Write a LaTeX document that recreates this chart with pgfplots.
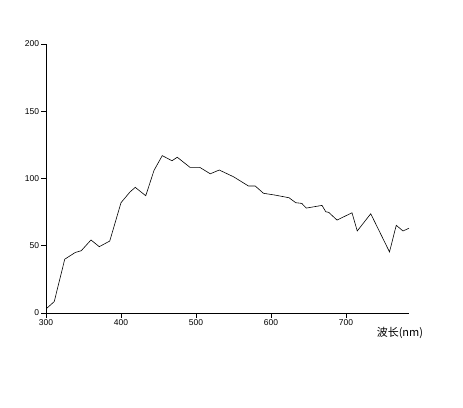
\documentclass[border=0pt]{standalone}
\usepackage{fontspec}
\setmainfont{Liberation Sans}
\newfontfamily\cjk{Noto Sans CJK SC}
\usepackage{pgfplots}
\pgfplotsset{compat=1.18}
\begin{document}
\begin{tikzpicture}
\path[use as bounding box] (-46bp,-95bp) rectangle (417bp,313bp);
\begin{axis}[
  at={(0,0)}, anchor=south west,
  scale only axis, width=363bp, height=269bp,
  xmin=300, xmax=784, ymin=0, ymax=200,
  axis lines*=left,
  axis line style={line width=0.6bp},
  tick align=outside,
  major tick length=4.5bp,
  tick style={line width=0.6bp, black},
  xtick={300,400,500,600,700},
  ytick={0,50,100,150,200},
  ticklabel style={font=\fontsize{8.5bp}{10bp}\selectfont},
  /pgf/number format/assume math mode=true,
  xticklabel style={yshift=1bp},
  yticklabel style={xshift=1bp},
  xlabel={\cjk 波长(nm)},
  xlabel style={font=\fontsize{11bp}{13bp}\selectfont, at={(axis description cs:0.975,-0.075)}, anchor=center},
]
\addplot[black, line width=0.6bp] coordinates {
(300,3) (311,8.5) (325,40) (339,45) (347,46.3) (360,54.3) (371,49.3) (385,53.5)
(400,82) (412,90) (419,93.4) (433,87.2) (444,106) (455,117) (468,113.2) (475,115.8)
(492,108.3) (505,108.3) (519,103.5) (531,106.3) (550,101.3) (570,94.4) (579,94.4)
(590,89) (605,87.7) (624,85.7) (633,82) (641,81.5) (647,78) (668,80) (673,75.3)
(677,74.8) (688,69.1) (708,74.5) (715,61) (733,73.8) (758,45.4) (767,65.2) (776,61) (784,63)
};
\end{axis}
\end{tikzpicture}
\end{document}
